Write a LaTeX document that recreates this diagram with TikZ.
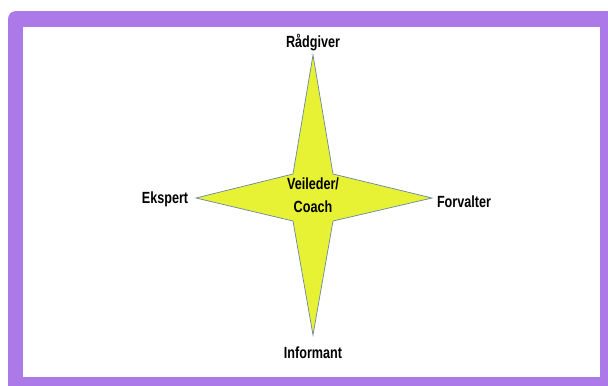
\documentclass[tikz,border=0pt]{standalone}
\usepackage{fontspec}
\setmainfont{Liberation Sans}[FakeStretch=0.78]
\usepackage{tikz}
\usetikzlibrary{positioning}

\definecolor{framepurple}{RGB}{171,122,232}
\definecolor{staryellow}{RGB}{232,242,52}
\definecolor{staredge}{RGB}{105,135,165}

\begin{document}
\begin{tikzpicture}[x=0.3mm, y=-0.3mm, font=\bfseries\fontsize{13.8}{19.5}\selectfont, role/.style={inner sep=1pt, align=center}]
\useasboundingbox (0,0) rectangle (608,386);
\fill[framepurple] (608,386) -- (8,386) [rounded corners=2.4mm] -- (8,11) [sharp corners] -- (608,11) -- cycle;
\fill[white] (23,27) rectangle (600,377);
\coordinate (tipN) at (313,55);
\coordinate (tipS) at (313,335);
\coordinate (tipW) at (196,198);
\coordinate (tipE) at (432,198);
\draw[staredge, fill=staryellow, line width=0.6pt] (tipN) -- (333,174) -- (tipE) -- (333,221) -- (tipS) -- (293,221) -- (tipW) -- (293,174) -- cycle;
\node[role] (coach) at (313,195) {Veileder/\\Coach};
\node[role] (radgiver) at (313,43) {Rådgiver};
\node[role] (informant) at (313,353) {Informant};
\node[role] (ekspert) at (165,199) {Ekspert};
\node[role] (forvalter) at (464,202) {Forvalter};
\end{tikzpicture}
\end{document}
